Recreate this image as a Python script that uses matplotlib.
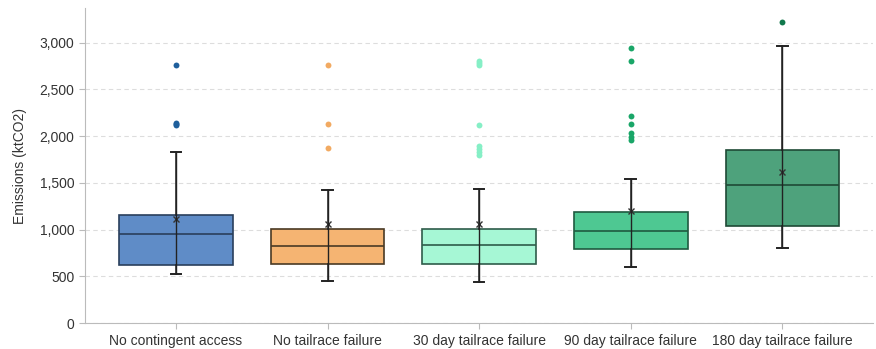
import matplotlib
matplotlib.use('Agg')
import matplotlib.pyplot as plt

categories = ['No contingent access', 'No tailrace failure', '30 day tailrace failure',
              '90 day tailrace failure', '180 day tailrace failure']
q1 = [626, 636, 636, 797, 1040]
median = [958, 825, 840, 986, 1476]
q3 = [1162, 1007, 1007, 1194, 1854]
whis_lo = [525, 454, 436, 600, 808]
whis_hi = [1826, 1429, 1436, 1540, 2969]
means = [1119, 1065, 1065, 1197, 1612]
outliers = [
    [2762, 2145, 2130, 2115],
    [2757, 2129, 1872],
    [2800, 2779, 2760, 2122, 1890, 1860, 1830, 1800],
    [2947, 2800, 2212, 2126, 2029, 1993, 1958],
    [3223],
]
box_colors = ['#5f8cc7', '#f5b472', '#a6f7d5', '#4ec892', '#4ea27c']
edge_colors = ['#2a3f5c', '#4a3a24', '#2f5c4a', '#1f5a40', '#1f4a36']
point_colors = ['#1f5f9c', '#f2aa62', '#86efc6', '#1aa668', '#10784c']

plt.rcParams['font.family'] = ['Liberation Sans', 'DejaVu Sans']

fig = plt.figure(figsize=(8.76, 3.49), dpi=100)
ax = fig.add_axes([0.097, 0.074, 0.9, 0.903])

stats = []
for i in range(len(categories)):
    stats.append({'label': categories[i], 'q1': q1[i], 'med': median[i], 'q3': q3[i],
                  'whislo': whis_lo[i], 'whishi': whis_hi[i], 'mean': means[i], 'fliers': []})

bp = ax.bxp(stats, positions=range(len(categories)), widths=0.75, patch_artist=True,
            showmeans=True, showfliers=False,
            meanprops=dict(marker='x', markeredgecolor='#333333', markersize=5, markeredgewidth=1),
            whiskerprops=dict(color='#222222', linewidth=1.1),
            capprops=dict(color='#222222', linewidth=1.4),
            medianprops=dict(linewidth=1.2))
for i, patch in enumerate(bp['boxes']):
    patch.set_facecolor(box_colors[i])
    patch.set_edgecolor(edge_colors[i])
    patch.set_linewidth(1.2)
    bp['medians'][i].set_color(edge_colors[i])
for c in bp['caps']:
    xd = c.get_xdata()
    mid = (xd[0] + xd[1]) / 2
    c.set_xdata([mid - 0.035, mid + 0.035])

# whisker line drawn through the box
ax.vlines(range(len(categories)), whis_lo, whis_hi, color='#222222', linewidth=1.0, zorder=3)

for i, pts in enumerate(outliers):
    ax.scatter([i] * len(pts), pts, s=18, color=point_colors[i], zorder=4, linewidths=0)

ax.set_xlim(-0.6, 4.6)
ax.set_ylim(0, 3370)
ax.set_yticks([0, 500, 1000, 1500, 2000, 2500, 3000])
ax.set_yticklabels(['0', '500', '1,000', '1,500', '2,000', '2,500', '3,000'])
ax.set_ylabel('Emissions (ktCO2)', fontsize=10, color='#333333', labelpad=9)
ax.yaxis.grid(True, linestyle=(0, (4, 3)), color='#dddddd', linewidth=0.8)
ax.set_axisbelow(True)
for s in ['top', 'right']:
    ax.spines[s].set_visible(False)
for s in ['left', 'bottom']:
    ax.spines[s].set_color('#bbbbbb')
ax.tick_params(labelcolor='#333333', labelsize=10)
ax.tick_params(axis='both', color='#bbbbbb', length=4)

fig.savefig('out.png', dpi=100)
